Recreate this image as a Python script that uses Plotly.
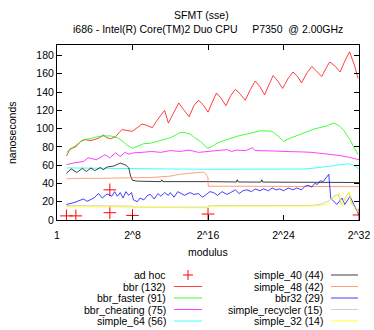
import plotly.graph_objects as go

W, H = 374, 330
L, R, T, B = 57, 15, 45, 110
FONT = "Liberation Sans, Arial, sans-serif"

# x values are log2(modulus)
xticks = [0, 8, 16, 24, 32]
xlabels = ["1", "2^8", "2^16", "2^24", "2^32"]
yticks = [0, 20, 40, 60, 80, 100, 120, 140, 160, 180]

adhoc_x = [1, 2, 5.6, 5.6, 8, 16, 32]
adhoc_y = [4.5, 4.5, 33, 8, 5, 6.5, 5.5]

bbr_x = [1, 1.4, 2.0, 2.5, 3.0, 3.5, 4.0, 4.5, 4.9, 5.3, 5.7, 6.2, 6.6, 6.9, 7.4, 7.95,
         8.5, 9.0, 9.4, 9.7, 10.1, 10.6, 11.0, 11.4, 11.8, 12.4, 12.9, 13.4, 14.0, 14.5,
         15.0, 15.5, 16.0, 16.5, 16.9, 17.4, 17.9, 18.4, 18.9, 19.4, 19.95, 20.5, 21.0,
         21.5, 22.0, 22.5, 22.9, 23.4, 23.9, 24.5, 25.0, 25.5, 25.9, 26.5, 27.0, 27.5,
         28.05, 28.5, 28.9, 29.5, 30.0, 30.5, 31.0, 31.5, 31.9]
bbr_y = [70, 78, 80, 86, 88, 87, 88, 90, 93, 90, 89, 91, 96, 99, 98, 97,
         101, 105, 104, 103, 101, 109, 114, 120, 106, 118, 128, 121, 113, 125,
         131, 126, 118, 130, 139, 133, 125, 136, 143, 138, 131, 143, 152,
         146, 137, 149, 158, 152, 144, 155, 162, 157, 150, 161, 168, 163,
         157, 166, 173, 168, 162, 174, 184, 170, 155]

faster_x = [1, 1.5, 2.0, 2.8, 3.5, 4.25, 5.0, 5.7, 6.5, 7.0, 7.4, 8.0, 8.6, 9.2, 9.9,
            10.6, 11.3, 12.0, 12.6, 13.1, 13.6, 14.1, 14.6, 15.2, 15.6, 16.0, 16.5,
            16.95, 17.7, 18.4, 19.2, 20.1, 20.8, 21.5, 22.2, 22.8, 23.3, 24.0, 24.7,
            25.4, 26.1, 26.6, 27.2, 27.9, 28.6, 29.3, 29.7, 30.0, 30.4, 30.7, 31.1,
            31.4, 31.9]
faster_y = [74, 78, 82, 88, 89, 91, 92, 92, 89.5, 86, 82, 78.5, 81, 83.5, 84,
            86, 88, 90, 93, 96, 95.5, 94, 90, 86, 82, 78.5, 81,
            84, 87, 89.5, 92, 94, 96, 97.5, 97.5, 97, 93, 86, 89.5,
            92, 95, 97, 99.5, 101, 103, 106, 104.5, 102, 98, 93, 87,
            80.5, 71.5]

cheat_x = [1, 1.8, 2.8, 3.3, 4.2, 5.1, 5.6, 6.2, 6.7, 7.2, 7.6, 8.1, 9, 10, 11, 12, 13,
           14, 15, 16, 17, 18, 18.5, 19, 20, 20.7, 21, 22, 23, 24, 25, 26, 27, 28, 29,
           30, 31, 32]
cheat_y = [60.5, 62.5, 64, 68, 66, 71.5, 68, 73.5, 69.5, 74, 72, 73.5, 74, 75, 74, 76, 75,
           76.5, 74, 75, 76, 77, 75, 76.5, 76, 79, 76, 76, 75.5, 75, 75, 74.5, 74, 73, 72,
           70.5, 68.5, 66]

s64_x = [1, 4, 8, 12, 16, 20, 24, 26, 27, 28, 29, 30, 30.9, 31.5, 32]
s64_y = [57, 56.5, 56, 55.8, 55.5, 55.3, 55.3, 55.8, 56.5, 57.5, 59, 60.5, 61.6, 59.5, 56]

s40_x = [1, 1.5, 2.1, 2.7, 3.1, 3.6, 4.0, 4.6, 4.9, 5.3, 6.0, 6.7, 7.3, 7.6, 7.8, 8.0,
         8.5, 11.0, 11.1, 11.2, 16, 19.0, 19.1, 19.2, 21.6, 21.7, 21.8, 24, 28, 32]
s40_y = [51, 56, 52, 56.5, 53, 57, 54, 57.5, 55, 58, 59, 62.3, 60, 57, 48, 43.4,
         42.5, 42, 44, 42, 42, 41.6, 44, 41.6, 41.5, 44, 41.5, 41.5, 41, 41]

s48_x = [1, 2, 4, 6, 8, 10, 12, 13, 14, 15, 15.5, 15.8, 16.0, 16.02, 20, 24, 28, 32]
s48_y = [45, 45.5, 45.5, 46, 46, 46.5, 48, 50, 51, 52, 52.5, 50, 46, 37, 37, 37, 36.5, 36.5]

b32_x = [1, 1.5, 1.8, 2.3, 2.8, 3.2, 3.6, 3.9, 4.4, 4.8, 5.3, 5.8, 6.1, 6.4, 6.7, 7.0,
         7.3, 7.6, 7.9, 8.1, 8.5, 8.8, 9.2, 9.6, 9.9, 10.3, 10.7, 11.0, 11.4, 11.8, 12.0,
         12.4, 12.8, 13.1, 13.5, 14.1, 14.5, 15.0, 15.4, 15.7, 16.2, 16.6, 17.0, 17.5,
         18.0, 18.4, 18.9, 19.3, 19.7, 20.1, 20.6, 21.0, 21.5, 21.9, 22.4, 22.8, 23.2,
         23.6, 24.0, 24.5, 25.0, 25.4, 25.9, 26.3, 26.6, 27.0, 27.3, 27.6, 27.9, 28.2,
         28.6, 28.8, 29.0, 29.65, 30.2, 30.5, 31.05, 31.6, 32]
b32_y = [17, 18, 19, 21, 23, 20.5, 23, 24, 29, 24, 28.5, 26, 31, 26, 30, 24,
         31, 27, 30, 22, 20, 24, 22, 27, 28, 23, 29, 26, 30, 27, 30,
         25, 31, 29, 27, 30, 28, 29, 25, 27, 31, 30, 27, 31,
         28, 30, 33, 29, 32, 33, 31, 34, 32, 34, 32, 35, 33,
         34, 32, 35, 33, 35, 33, 37, 38, 36, 40, 39, 43, 42,
         48, 50, 24, 17, 24, 17, 26, 13, 5]

recyc_x = [1, 4, 8, 8.05, 12, 16, 16.05, 20, 24, 27, 28, 28.8, 29.3, 29.8, 30.1, 30.9,
           31.2, 31.6, 32]
recyc_y = [15.8, 15.5, 15.3, 14.2, 14, 14, 15.6, 15.6, 15.8, 16, 17.5, 21, 26, 28, 17, 30,
           19, 14, 9]

s32_x = [1, 4, 8, 8.05, 12, 16, 16.05, 20, 24, 27, 28, 28.6, 29.1, 29.9, 30.2, 31.0,
         31.2, 31.9]
s32_y = [14.5, 14.3, 14, 13.4, 13.3, 13.3, 15, 15, 15.1, 15.3, 16, 17, 22, 29.6, 15, 31.4,
         17, 8]

lines = [
    ("bbr (132)", bbr_x, bbr_y, "#ff0000"),
    ("bbr_faster (91)", faster_x, faster_y, "#00ff00"),
    ("bbr_cheating (75)", cheat_x, cheat_y, "#ff00ff"),
    ("simple_64 (56)", s64_x, s64_y, "#00ffff"),
    ("simple_40 (44)", s40_x, s40_y, "#000000"),
    ("simple_48 (42)", s48_x, s48_y, "#ff7f50"),
    ("bbr32 (29)", b32_x, b32_y, "#0000ff"),
    ("simple_recycler (15)", recyc_x, recyc_y, "#c0c0c0"),
    ("simple_32 (14)", s32_x, s32_y, "#ffff00"),
]

fig = go.Figure()
fig.add_trace(go.Scatter(
    x=adhoc_x, y=adhoc_y, mode="markers", name="ad hoc",
    marker=dict(symbol="cross-thin", size=9, line=dict(color="#ff0000", width=1))))
for name, xs, ys, col in lines:
    fig.add_trace(go.Scatter(x=xs, y=ys, mode="lines", name=name,
                             line=dict(color=col, width=0.75)))

pw, ph = W - L - R, H - T - B


def px(x):
    return (x - L) / pw


def py(y):
    return (H - B - y) / ph


def label(x, y, text, anchor="center", angle=0):
    return dict(x=px(x), y=py(y), xref="paper", yref="paper", text=text,
                showarrow=False, xanchor=anchor, yanchor="middle", textangle=angle,
                font=dict(size=10.5, color="black", family=FONT))


# gnuplot-style key: text right-aligned, sample to its right
shapes = []
annotations = []
rows = [275, 286.5, 298, 309.5, 321]
names = ["ad hoc"] + [n for n, *_ in lines]
colors = ["#ff0000"] + [c for *_, c in lines]
for i, (name, col) in enumerate(zip(names, colors)):
    c = i // 5
    r = i % 5
    tx = [168, 325][c]
    sx = [[174, 202], [331, 358]][c]
    y = rows[r]
    annotations.append(label(tx, y, name, anchor="right"))
    if name == "ad hoc":
        cx = (sx[0] + sx[1]) / 2
        shapes.append(dict(type="line", xref="paper", yref="paper", x0=px(cx - 5), x1=px(cx + 5),
                           y0=py(y), y1=py(y), line=dict(color=col, width=1)))
        shapes.append(dict(type="line", xref="paper", yref="paper", x0=px(cx), x1=px(cx),
                           y0=py(y - 5), y1=py(y + 5), line=dict(color=col, width=1)))
    else:
        shapes.append(dict(type="line", xref="paper", yref="paper", x0=px(sx[0]), x1=px(sx[1]),
                           y0=py(y), y1=py(y), line=dict(color=col, width=0.75)))

annotations.append(label(201, 15, "SFMT (sse)"))
annotations.append(label(207.5, 29, "i686 - Intel(R) Core(TM)2 Duo CPU\u00a0\u00a0\u00a0\u00a0 P7350\u00a0 @ 2.00GHz"))
annotations.append(label(208, 252, "modulus"))
annotations.append(label(12, 133, "nanoseconds", angle=-90))

axis_common = dict(showline=True, linecolor="black", linewidth=1, mirror="ticks",
                   ticks="inside", ticklen=5, tickcolor="black", showgrid=False,
                   zeroline=False, automargin=False,
                   tickfont=dict(size=10.5, color="black", family=FONT))

fig.update_layout(
    width=W, height=H,
    margin=dict(l=L, r=R, t=T, b=B),
    paper_bgcolor="white", plot_bgcolor="white",
    showlegend=False,
    font=dict(family=FONT, size=10.5, color="black"),
    xaxis=dict(range=[0, 32], tickvals=xticks, ticktext=xlabels, ticklabelstandoff=5,
               **axis_common),
    yaxis=dict(range=[0, 191.5], tickvals=yticks, **axis_common),
    shapes=shapes,
    annotations=annotations,
)

fig.write_html("out.html", config={"displayModeBar": False},
               post_script="document.body.style.margin='0';")
